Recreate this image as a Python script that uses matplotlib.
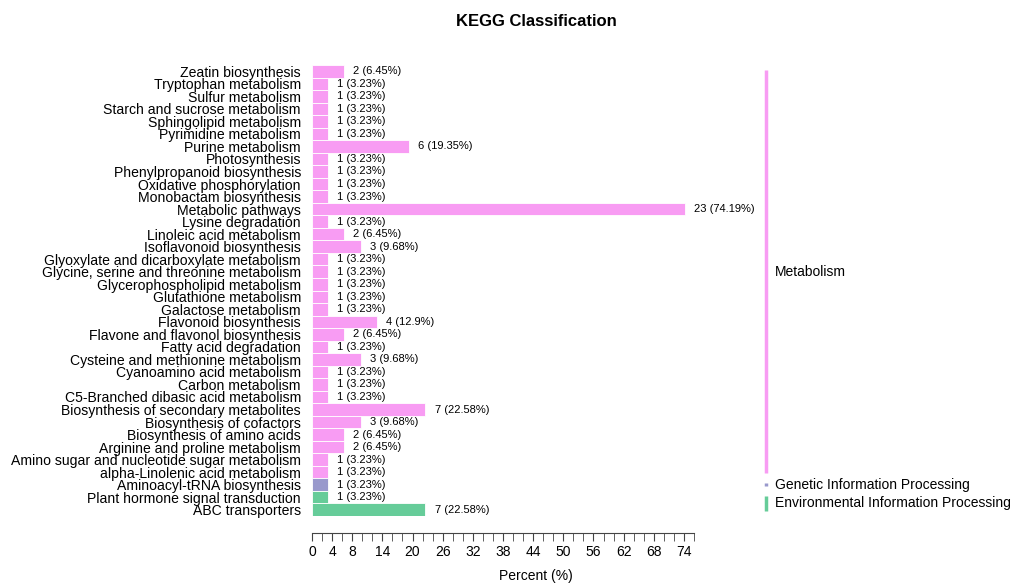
import matplotlib
matplotlib.use("Agg")
import matplotlib.pyplot as plt
import matplotlib.transforms as mtransforms

plt.rcParams['font.family'] = ['Liberation Sans', 'DejaVu Sans']

# pathways, top to bottom
pathways = [
    "Zeatin biosynthesis", "Tryptophan metabolism", "Sulfur metabolism",
    "Starch and sucrose metabolism", "Sphingolipid metabolism",
    "Pyrimidine metabolism", "Purine metabolism", "Photosynthesis",
    "Phenylpropanoid biosynthesis", "Oxidative phosphorylation",
    "Monobactam biosynthesis", "Metabolic pathways", "Lysine degradation",
    "Linoleic acid metabolism", "Isoflavonoid biosynthesis",
    "Glyoxylate and dicarboxylate metabolism",
    "Glycine, serine and threonine metabolism",
    "Glycerophospholipid metabolism", "Glutathione metabolism",
    "Galactose metabolism", "Flavonoid biosynthesis",
    "Flavone and flavonol biosynthesis", "Fatty acid degradation",
    "Cysteine and methionine metabolism", "Cyanoamino acid metabolism",
    "Carbon metabolism", "C5-Branched dibasic acid metabolism",
    "Biosynthesis of secondary metabolites", "Biosynthesis of cofactors",
    "Biosynthesis of amino acids", "Arginine and proline metabolism",
    "Amino sugar and nucleotide sugar metabolism",
    "alpha-Linolenic acid metabolism", "Aminoacyl-tRNA biosynthesis",
    "Plant hormone signal transduction", "ABC transporters",
]
counts = [2, 1, 1, 1, 1, 1, 6, 1, 1, 1, 1, 23, 1, 2, 3, 1, 1, 1, 1, 1,
          4, 2, 1, 3, 1, 1, 1, 7, 3, 2, 2, 1, 1, 1, 1, 7]
percents = [6.45, 3.23, 3.23, 3.23, 3.23, 3.23, 19.35, 3.23, 3.23, 3.23,
            3.23, 74.19, 3.23, 6.45, 9.68, 3.23, 3.23, 3.23, 3.23, 3.23,
            12.9, 6.45, 3.23, 9.68, 3.23, 3.23, 3.23, 22.58, 9.68, 6.45,
            6.45, 3.23, 3.23, 3.23, 3.23, 22.58]
groups = ["Metabolism"] * 33 + ["Genetic Information Processing"] + \
         ["Environmental Information Processing"] * 2
group_names = ["Metabolism", "Genetic Information Processing",
               "Environmental Information Processing"]
group_colors = {"Metabolism": "#f89cf3",
                "Genetic Information Processing": "#9999cc",
                "Environmental Information Processing": "#66cc99"}
major_ticks = [0, 4, 8, 14, 20, 26, 32, 38, 44, 50, 56, 62, 68, 74]

fig = plt.figure(figsize=(10.14, 5.83), dpi=100)
ax = fig.add_axes([312 / 1014, 1 - 516 / 583, 382 / 1014, 451 / 583])

ypos = list(range(len(pathways)))
colors = [group_colors[g] for g in groups]
ax.barh(ypos, percents, height=1.0, color=colors, edgecolor="white",
        linewidth=0.6)
for y, c, p in zip(ypos, counts, percents):
    ax.annotate(f"{c} ({p:g}%)", (p, y), xytext=(6.5, 0),
                textcoords="offset points", va="center", ha="left",
                fontsize=8)

ax.set_ylim(len(pathways) - 0.5, -0.5)
ax.set_xlim(0, 76)
ax.set_yticks(ypos)
ax.set_yticklabels(pathways, fontsize=10.1)
ax.tick_params(axis="y", length=0, pad=8)
for s in ["top", "right", "left"]:
    ax.spines[s].set_visible(False)
ax.spines["bottom"].set_position(("outward", 12))
ax.spines["bottom"].set_color("#444444")
ax.set_xticks(major_ticks)
ax.set_xticks(range(0, 77, 2), minor=True)
ax.tick_params(axis="x", which="both", length=6, color="#444444",
               labelsize=10, pad=3)

# group brackets on the right
trans = mtransforms.blended_transform_factory(ax.transAxes, ax.transData)
for g in group_names:
    rows = [i for i, gg in enumerate(groups) if gg == g]
    top, bot = rows[0] - 0.5 + 0.4, rows[-1] + 0.5 - 0.4
    ax.plot([1.188, 1.188], [top, bot], color=group_colors[g], lw=2.5,
            transform=trans, clip_on=False, solid_capstyle="butt")
    ax.text(1.212, (rows[0] + rows[-1]) / 2, g, transform=trans,
            va="center", ha="left", fontsize=10)

fig.text(536 / 1014, 1 - 21 / 583, "KEGG Classification", ha="center",
         va="center", fontsize=12, fontweight="bold")
fig.text(536 / 1014, 1 - 576 / 583, "Percent (%)", ha="center",
         va="center", fontsize=10)

fig.savefig("out.png", dpi=100)
